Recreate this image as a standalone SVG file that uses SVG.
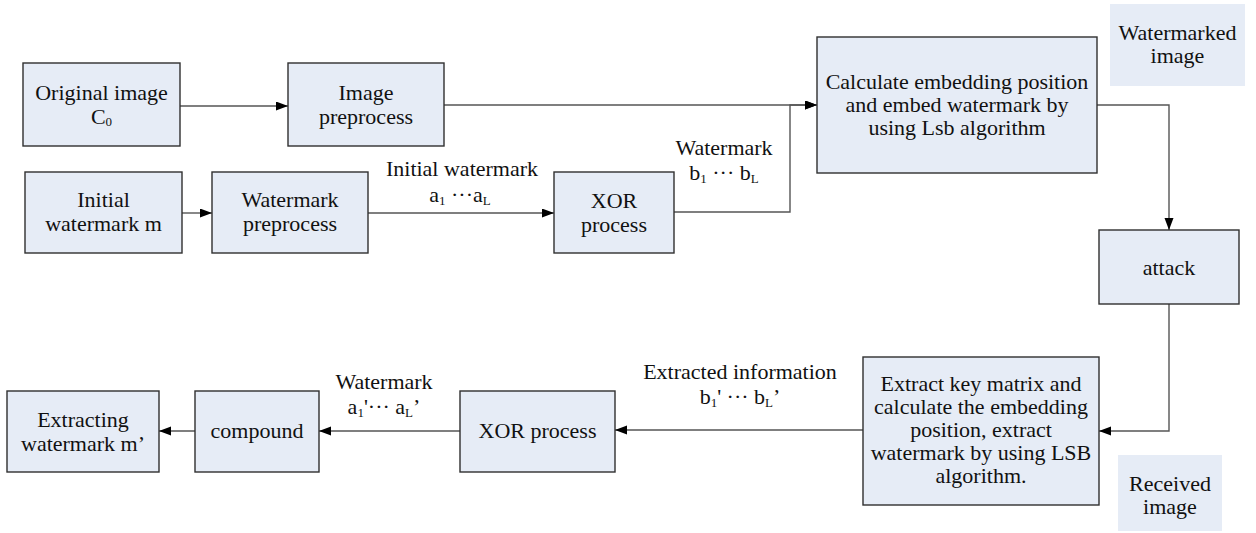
<svg xmlns="http://www.w3.org/2000/svg" width="1256" height="533" viewBox="0 0 1256 533">
<defs>
<style>
.box{fill:#E6ECF6;stroke:#303030;stroke-width:1.4}
.plain{fill:#E6ECF6;stroke:none}
text{font-family:"Liberation Serif","Times New Roman",serif;font-size:22px;fill:#111;text-anchor:middle}
.sub{font-size:13px}
.conn{fill:none;stroke:#555;stroke-width:1.4}
</style>
<marker id="arr" markerUnits="userSpaceOnUse" markerWidth="13" markerHeight="10" refX="12" refY="4.5" orient="auto">
<path d="M0,0 L12,4.5 L0,9 z" fill="#000"/>
</marker>
</defs>
<rect width="1256" height="533" fill="#fff"/>
<g id="connectors">
<path class="conn" d="M180,106 H288" marker-end="url(#arr)"/>
<path class="conn" d="M444,105 H817" marker-end="url(#arr)"/>
<path class="conn" d="M182,213 H212" marker-end="url(#arr)"/>
<path class="conn" d="M368,213 H554" marker-end="url(#arr)"/>
<path class="conn" d="M674,212 H790 V105 H817" marker-end="url(#arr)"/>
<path class="conn" d="M1097,105 H1169 V230" marker-end="url(#arr)"/>
<path class="conn" d="M1169,304 V431 H1099" marker-end="url(#arr)"/>
<path class="conn" d="M863,430 H615" marker-end="url(#arr)"/>
<path class="conn" d="M460,431 H319" marker-end="url(#arr)"/>
<path class="conn" d="M195,431 H159" marker-end="url(#arr)"/>
<text x="462" y="176">Initial watermark</text>
<text x="460" y="202">a<tspan class="sub" dy="3">1</tspan><tspan dy="-3"> ···a</tspan><tspan class="sub" dy="3">L</tspan></text>
<text x="724" y="155">Watermark</text>
<text x="724" y="180">b<tspan class="sub" dy="3">1</tspan><tspan dy="-3"> ··· b</tspan><tspan class="sub" dy="3">L</tspan></text>
<text x="740" y="379">Extracted information</text>
<text x="740" y="404">b<tspan class="sub" dy="3">1</tspan><tspan dy="-3">' ··· b</tspan><tspan class="sub" dy="3">L</tspan><tspan dy="-3">’</tspan></text>
<text x="384" y="389">Watermark</text>
<text x="384" y="414">a<tspan class="sub" dy="3">1</tspan><tspan dy="-3">'··· a</tspan><tspan class="sub" dy="3">L</tspan><tspan dy="-3">’</tspan></text>
</g>
<g id="original">
<rect class="box" x="23" y="63" width="157" height="83"/>
<text x="101.5" y="100">Original image</text>
<text x="101.5" y="124">C<tspan class="sub" font-size="16" dy="2">0</tspan></text>
</g>
<g id="imgpre">
<rect class="box" x="288" y="63" width="156" height="83"/>
<text x="366" y="100">Image</text>
<text x="366" y="124">preprocess</text>
</g>
<g id="initwm">
<rect class="box" x="25" y="172" width="157" height="81"/>
<text x="103.5" y="207">Initial</text>
<text x="103.5" y="231">watermark m</text>
</g>
<g id="wmpre">
<rect class="box" x="212" y="172" width="156" height="81"/>
<text x="290" y="207">Watermark</text>
<text x="290" y="231">preprocess</text>
</g>
<g id="xor1">
<rect class="box" x="554" y="172" width="120" height="81"/>
<text x="614" y="208">XOR</text>
<text x="614" y="232">process</text>
</g>
<g id="calc">
<rect class="box" x="817" y="37" width="280" height="136"/>
<text x="957" y="89">Calculate embedding position</text>
<text x="957" y="112">and embed watermark by</text>
<text x="957" y="135">using Lsb algorithm</text>
</g>
<g id="wmimg">
<rect class="plain" x="1110" y="4" width="135" height="82"/>
<text x="1177.5" y="40">Watermarked</text>
<text x="1177.5" y="63">image</text>
</g>
<g id="attack">
<rect class="box" x="1099" y="230" width="140" height="74"/>
<text x="1169" y="275">attack</text>
</g>
<g id="extract">
<rect class="box" x="863" y="357" width="236" height="148"/>
<text x="981" y="391">Extract key matrix and</text>
<text x="981" y="414">calculate the embedding</text>
<text x="981" y="437">position, extract</text>
<text x="981" y="460">watermark by using LSB</text>
<text x="981" y="483">algorithm.</text>
</g>
<g id="recvimg">
<rect class="plain" x="1118" y="455" width="104" height="76"/>
<text x="1170" y="491">Received</text>
<text x="1170" y="514">image</text>
</g>
<g id="xor2">
<rect class="box" x="460" y="391" width="155" height="81"/>
<text x="537.5" y="438">XOR process</text>
</g>
<g id="compound">
<rect class="box" x="195" y="391" width="124" height="81"/>
<text x="257" y="438">compound</text>
</g>
<g id="extracting">
<rect class="box" x="7" y="391" width="152" height="81"/>
<text x="83" y="427">Extracting</text>
<text x="83" y="451">watermark m’</text>
</g>
</svg>
